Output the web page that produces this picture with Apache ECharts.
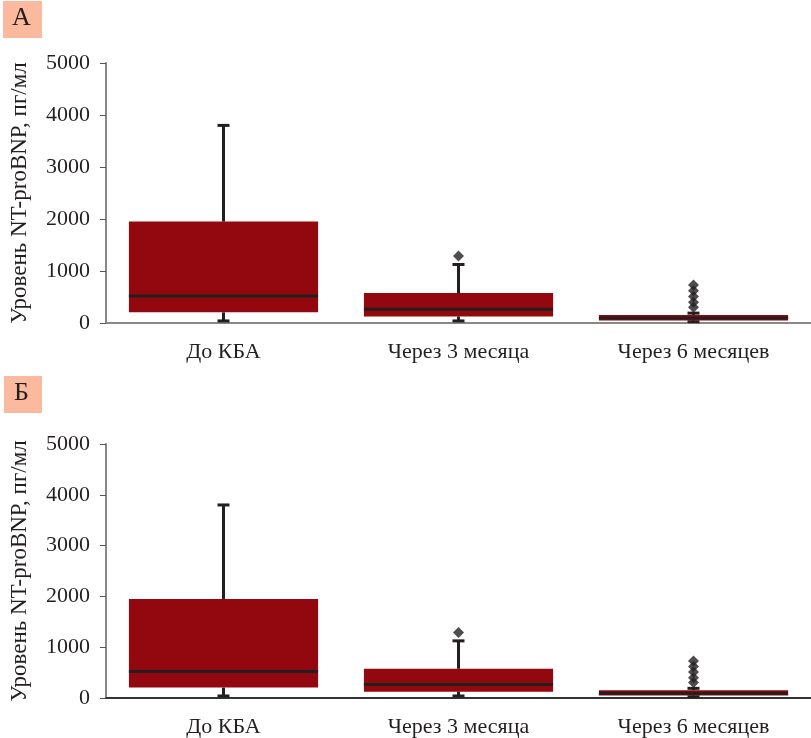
<!DOCTYPE html>
<html>
<head>
<meta charset="utf-8">
<script src="https://cdn.jsdelivr.net/npm/echarts@6/dist/echarts.min.js"></script>
<style>html,body{margin:0;padding:0;background:#fff;}#c{width:811px;height:738px;}</style>
</head>
<body>
<div id="c"></div>
<script>
const categories = ['До КБА', 'Через 3 месяца', 'Через 6 месяцев'];
const yTicks = [0, 1000, 2000, 3000, 4000, 5000];
const whiskerLow = [40, 40, 25];
const q1 = [205, 125, 50];
const median = [520, 265, 95];
const q3 = [1950, 575, 155];
const whiskerHigh = [3800, 1125, 190];
const outlierCat = [1, 2, 2, 2, 2, 2];
const outlierVal = [1290, 730, 620, 510, 400, 305];
const panelLetters = ['А', 'Б'];
const yName = 'Уровень NT-proBNP, пг/мл';

const boxData = categories.map((c, i) => [i, whiskerLow[i], q1[i], median[i], q3[i], whiskerHigh[i]]);
const outData = outlierCat.map((c, i) => [c, outlierVal[i]]);

const FONT = 'Liberation Serif';
const INK = '#231f20';
const RED = '#93070f';

function renderBox(params, api) {
  const x = api.value(0);
  const lo = api.coord([x, api.value(1)]);
  const b1 = api.coord([x, api.value(2)]);
  const md = api.coord([x, api.value(3)]);
  const b3 = api.coord([x, api.value(4)]);
  const hi = api.coord([x, api.value(5)]);
  const bw = api.size([1, 0])[0] * 0.805;
  const cx = lo[0];
  const capW = 12;
  const ls = { stroke: INK, lineWidth: 3 };
  return {
    type: 'group',
    children: [
      { type: 'line', shape: { x1: cx, y1: hi[1], x2: cx, y2: b3[1] }, style: ls },
      { type: 'line', shape: { x1: cx - capW / 2, y1: hi[1], x2: cx + capW / 2, y2: hi[1] }, style: ls },
      { type: 'line', shape: { x1: cx, y1: lo[1], x2: cx, y2: b1[1] }, style: ls },
      { type: 'line', shape: { x1: cx - capW / 2, y1: lo[1], x2: cx + capW / 2, y2: lo[1] }, style: ls },
      { type: 'rect', shape: { x: cx - bw / 2, y: b3[1], width: bw, height: b1[1] - b3[1] }, style: { fill: RED } },
      { type: 'line', shape: { x1: cx - bw / 2, y1: md[1], x2: cx + bw / 2, y2: md[1] }, style: ls }
    ]
  };
}

function xAxis(idx, lineColor) {
  return {
    type: 'category', gridIndex: idx, data: categories,
    axisLine: { lineStyle: { color: lineColor, width: 2 } },
    axisTick: { alignWithLabel: true, length: 8, lineStyle: { color: '#555', width: 1 } },
    axisLabel: { fontFamily: FONT, fontSize: 22, color: INK, margin: 18 },
    splitLine: { show: false }
  };
}
function yAxis(idx) {
  return {
    type: 'value', gridIndex: idx, min: 0, max: 5000, interval: 1000,
    name: yName, nameLocation: 'middle', nameGap: 75,
    nameTextStyle: { fontFamily: FONT, fontSize: 23, color: INK },
    axisLine: { show: true, lineStyle: { color: '#888', width: 2 } },
    axisTick: { show: true, length: 6, lineStyle: { color: '#555', width: 1 } },
    axisLabel: { fontFamily: FONT, fontSize: 22, color: INK, margin: 16, padding: [0, 0, 8, 0],
      formatter: v => yTicks.indexOf(v) >= 0 ? String(v) : '' },
    splitLine: { show: false }
  };
}

const chart = echarts.init(document.getElementById('c'));
chart.setOption({
  animation: false,
  backgroundColor: '#fff',
  grid: [
    { left: 104, right: 0, top: 63, height: 260 },
    { left: 104, right: 0, top: 444, height: 255 }
  ],
  xAxis: [xAxis(0, '#888'), xAxis(1, '#333')],
  yAxis: [yAxis(0), yAxis(1)],
  graphic: [
    { type: 'rect', left: 3, top: 1, shape: { width: 39, height: 37 }, style: { fill: '#fbb99e' } },
    { type: 'text', left: 12, top: 5, style: { text: panelLetters[0], font: '26px "Liberation Serif"', fill: INK } },
    { type: 'rect', left: 4, top: 376, shape: { width: 38, height: 37 }, style: { fill: '#fbb99e' } },
    { type: 'text', left: 14, top: 380, style: { text: panelLetters[1], font: '26px "Liberation Serif"', fill: INK } }
  ],
  series: [
    { type: 'custom', xAxisIndex: 0, yAxisIndex: 0, renderItem: renderBox, data: boxData, encode: { x: 0, y: [1, 2, 3, 4, 5] }, z: 2 },
    { type: 'scatter', xAxisIndex: 0, yAxisIndex: 0, data: outData, symbol: 'diamond', symbolSize: 11, itemStyle: { color: INK }, z: 3 },
    { type: 'custom', xAxisIndex: 1, yAxisIndex: 1, renderItem: renderBox, data: boxData, encode: { x: 0, y: [1, 2, 3, 4, 5] }, z: 2 },
    { type: 'scatter', xAxisIndex: 1, yAxisIndex: 1, data: outData, symbol: 'diamond', symbolSize: 11, itemStyle: { color: INK }, z: 3 }
  ]
});
</script>
</body>
</html>
